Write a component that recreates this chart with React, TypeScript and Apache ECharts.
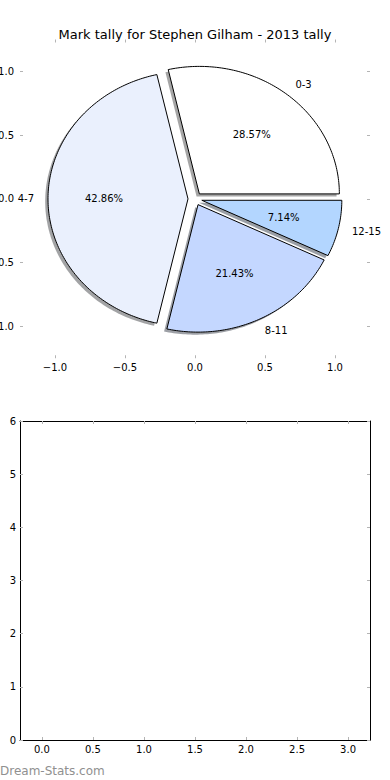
import React, { useEffect, useRef } from "react";
import * as echarts from "echarts";

// ---- data ----
const categories = ["0-3", "4-7", "8-11", "12-15"];
const tallies = [4, 6, 3, 1];
const explode = [0.05, 0.05, 0.05, 0.05];
const pieTicks = [-1, -0.5, 0, 0.5, 1];
const lowerXTicks = [0, 0.5, 1, 1.5, 2, 2.5, 3];
const titleText = "Mark tally for Stephen Gilham - 2013 tally";
const watermark = "Dream-Stats.com";

// ---- styles ----
const wedgeColors = ["#ffffff", "#eaf0fd", "#c4d7ff", "#b3d6ff"];
const FONT = "DejaVu Sans";
const TICK_COLOR = "#b4b4b4";

const total = tallies.reduce((a, b) => a + b, 0);

function wedgeAngles(i: number) {
  let before = 0;
  for (let k = 0; k < i; k++) before += tallies[k];
  const start = (before / total) * 2 * Math.PI;
  const end = ((before + tallies[i]) / total) * 2 * Math.PI;
  return { start, end, mid: (start + end) / 2 };
}

function wedgePoints(i: number, api: any, dx: number, dy: number) {
  const { start, end, mid } = wedgeAngles(i);
  const cx = explode[i] * Math.cos(mid) + dx;
  const cy = explode[i] * Math.sin(mid) + dy;
  const pts: number[][] = [api.coord([cx, cy])];
  const steps = Math.max(4, Math.ceil(((end - start) * 180) / Math.PI));
  for (let s = 0; s <= steps; s++) {
    const a = start + ((end - start) * s) / steps;
    pts.push(api.coord([cx + Math.cos(a), cy + Math.sin(a)]));
  }
  return pts;
}

function shadowColor(hex: string) {
  const r = parseInt(hex.slice(1, 3), 16);
  const g = parseInt(hex.slice(3, 5), 16);
  const b = parseInt(hex.slice(5, 7), 16);
  return `rgba(${Math.round(r * 0.3)},${Math.round(g * 0.3)},${Math.round(b * 0.3)},0.5)`;
}

const fmt1 = (v: number) => (v < 0 ? "\u2212" : "") + Math.abs(v).toFixed(1);

function ticksOnly(extra: any) {
  return {
    axisLine: { show: false, onZero: false },
    splitLine: { show: false },
    axisLabel: { show: false },
    ...extra,
  };
}

export default function App() {
  const ref = useRef<HTMLDivElement>(null);
  useEffect(() => {
    if (!ref.current) return;
    const chart = echarts.init(ref.current, undefined, { renderer: "svg" });
    const pieData = tallies.map((t, i) => [i, t]);

    const tickStyle = (custom: number[] | null) => ({
      show: true,
      inside: true,
      length: 3,
      ...(custom ? { customValues: custom } : {}),
      lineStyle: { color: TICK_COLOR, width: 1 },
    });
    const labelStyle = (custom: number[] | null, margin: number, formatter: any) => ({
      show: true,
      margin,
      fontSize: 10,
      fontFamily: FONT,
      color: "#000",
      formatter,
      ...(custom ? { customValues: custom } : {}),
    });

    const option: any = {
      animation: false,
      backgroundColor: "#ffffff",
      title: {
        text: titleText,
        left: "center",
        top: 23,
        textStyle: { fontSize: 13, fontWeight: "normal", color: "#000", fontFamily: FONT },
      },
      grid: [
        { left: 20, right: 20, top: 39.5, height: 318.75, containLabel: false, outerBoundsMode: "none" },
        { left: 20, right: 20, top: 421, height: 319, containLabel: false, outerBoundsMode: "none" },
      ],
      xAxis: [
        {
          gridIndex: 0, type: "value", min: -1.25, max: 1.25, position: "bottom",
          axisLine: { show: false, onZero: false }, splitLine: { show: false },
          axisTick: tickStyle(pieTicks), axisLabel: labelStyle(pieTicks, 4, fmt1),
        },
        {
          gridIndex: 0, type: "value", min: -1.25, max: 1.25, position: "top",
          ...ticksOnly({ axisTick: tickStyle(pieTicks) }),
        },
        {
          gridIndex: 1, type: "value", min: -0.215, max: 3.215, position: "bottom",
          axisLine: { show: true, onZero: false, lineStyle: { color: "#000", width: 1 } },
          splitLine: { show: false },
          axisTick: tickStyle(lowerXTicks), axisLabel: labelStyle(lowerXTicks, 4, fmt1),
        },
        {
          gridIndex: 1, type: "value", min: -0.215, max: 3.215, position: "top",
          axisLine: { show: true, onZero: false, lineStyle: { color: "#000", width: 1 } },
          splitLine: { show: false }, axisLabel: { show: false },
          axisTick: tickStyle(lowerXTicks),
        },
      ],
      yAxis: [
        {
          gridIndex: 0, type: "value", min: -1.25, max: 1.25, position: "left",
          axisLine: { show: false, onZero: false }, splitLine: { show: false },
          axisTick: tickStyle(pieTicks), axisLabel: labelStyle(pieTicks, 6, fmt1),
        },
        {
          gridIndex: 0, type: "value", min: -1.25, max: 1.25, position: "right",
          ...ticksOnly({ axisTick: tickStyle(pieTicks) }),
        },
        {
          gridIndex: 1, type: "value", min: 0, max: 6, interval: 1, position: "left",
          axisLine: { show: true, onZero: false, lineStyle: { color: "#000", width: 1 } },
          splitLine: { show: false },
          axisTick: tickStyle(null), axisLabel: labelStyle(null, 4, (v: number) => String(v)),
        },
        {
          gridIndex: 1, type: "value", min: 0, max: 6, interval: 1, position: "right",
          axisLine: { show: true, onZero: false, lineStyle: { color: "#000", width: 1 } },
          splitLine: { show: false }, axisLabel: { show: false },
          axisTick: tickStyle(null),
        },
      ],
      series: [
        {
          type: "custom",
          name: "shadows",
          xAxisIndex: 0,
          yAxisIndex: 0,
          z: 2,
          silent: true,
          data: pieData,
          renderItem: (params: any, api: any) => ({
            type: "polygon",
            shape: { points: wedgePoints(params.dataIndex, api, -0.02, -0.02) },
            style: { fill: shadowColor(wedgeColors[params.dataIndex]), stroke: "none" },
          }),
        },
        {
          type: "custom",
          name: "wedges",
          xAxisIndex: 0,
          yAxisIndex: 0,
          z: 3,
          silent: true,
          data: pieData,
          renderItem: (params: any, api: any) => ({
            type: "polygon",
            shape: { points: wedgePoints(params.dataIndex, api, 0, 0) },
            style: {
              fill: wedgeColors[params.dataIndex],
              stroke: "#000",
              lineWidth: 1,
              lineJoin: "miter",
            },
          }),
        },
        {
          type: "custom",
          name: "labels",
          xAxisIndex: 0,
          yAxisIndex: 0,
          z: 4,
          silent: true,
          data: pieData,
          renderItem: (params: any, api: any) => {
            const i = params.dataIndex;
            const { mid } = wedgeAngles(i);
            const cx = explode[i] * Math.cos(mid);
            const cy = explode[i] * Math.sin(mid);
            const outer = api.coord([cx + 1.1 * Math.cos(mid), cy + 1.1 * Math.sin(mid)]);
            const inner = api.coord([cx + 0.6 * Math.cos(mid), cy + 0.6 * Math.sin(mid)]);
            const isRight = cx + 1.1 * Math.cos(mid) > 0;
            const pct = ((tallies[i] / total) * 100).toFixed(2) + "%";
            return {
              type: "group",
              children: [
                {
                  type: "text",
                  style: {
                    text: categories[i], x: outer[0], y: outer[1],
                    align: isRight ? "left" : "right", verticalAlign: "middle",
                    fontSize: 10, fontFamily: FONT, fill: "#000",
                  },
                },
                {
                  type: "text",
                  style: {
                    text: pct, x: inner[0], y: inner[1],
                    align: "center", verticalAlign: "middle",
                    fontSize: 10, fontFamily: FONT, fill: "#000",
                  },
                },
              ],
            };
          },
        },
      ],
      graphic: [
        {
          type: "text",
          left: 0,
          top: 765,
          style: {
            text: watermark,
            fontSize: 12,
            fontWeight: "normal",
            fontFamily: FONT,
            fill: "#909090",
          },
        },
      ],
    };
    chart.setOption(option);
    return () => chart.dispose();
  }, []);
  return (
    <div
      ref={ref}
      style={{ position: "fixed", left: 0, top: 0, width: 390, height: 780, background: "#fff" }}
    />
  );
}
